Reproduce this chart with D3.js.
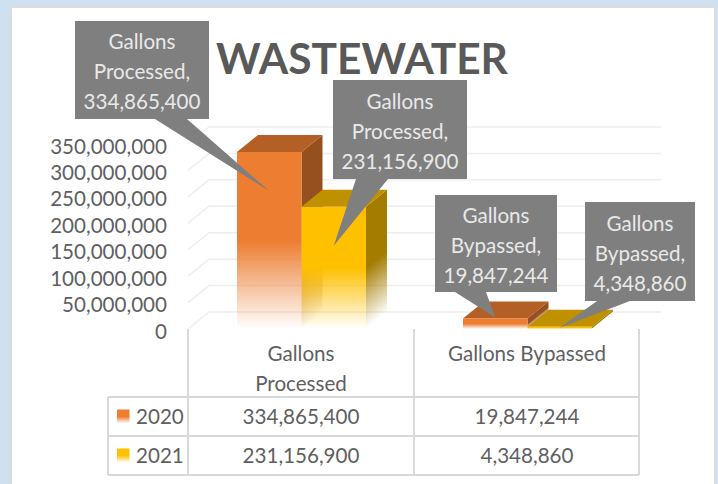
<!DOCTYPE html>
<html>
<head>
<meta charset="utf-8">
<script src="https://d3js.org/d3.v7.min.js"></script>
<style>
  body { margin: 0; background: #cfe0f0; }
  text { font-family: Lato, "Noto Sans", sans-serif; fill: #5f5f5f; }
</style>
</head>
<body>
<svg id="drawing-area" width="718" height="484"></svg>
<script>
const categories = ["Gallons Processed", "Gallons Bypassed"];
const seriesNames = ["2020", "2021"];
const values2020 = [334865400, 19847244];
const values2021 = [231156900, 4348860];
const yTicks = [0, 50000000, 100000000, 150000000, 200000000, 250000000, 300000000, 350000000];

const seriesValues = [values2020, values2021];
const faces = [
  { front: "#ed7d31", top: "#b35f25", side: "#964f1e" },
  { front: "#ffc000", top: "#bf9000", side: "#a37c00" }
];

// 3d depth of the plot box
const depth = { x: 21, y: -17 };
const fmt = d3.format(",");
const cellSize = 20.6;

const svg = d3.select("#drawing-area");
const defs = svg.append("defs");

svg.append("rect")
  .attr("x", 11).attr("y", 7)
  .attr("width", 704).attr("height", 490)
  .attr("fill", "#fff")
  .attr("stroke", "#dcdcdc")
  .attr("stroke-width", 2);

svg.append("text")
  .attr("x", 362).attr("y", 74)
  .attr("text-anchor", "middle")
  .attr("font-size", 42.5)
  .attr("font-weight", 700)
  .style("fill", "#595959")
  .text("WASTEWATER");

const x0 = d3.scaleBand().domain(categories).range([188, 640]);
const x1 = d3.scaleBand().domain(seriesNames).range([49, 178]);
const y = d3.scaleLinear().domain([0, 350000000]).range([329, 144]);
const row = d3.scaleBand().domain(seriesNames).range([397, 475]);

// gridlines: a short diagonal on the side wall, then along the back wall
svg.append("g")
  .selectAll("path")
  .data(yTicks)
  .enter()
  .append("path")
  .attr("d", d => {
    const p = d3.path();
    p.moveTo(x0.range()[0], y(d));
    p.lineTo(x0.range()[0] + depth.x, y(d) + depth.y);
    p.lineTo(x0.range()[1] + depth.x, y(d) + depth.y);
    return p.toString();
  })
  .attr("fill", "none")
  .attr("stroke", "#eeeeee")
  .attr("stroke-width", 1.5);

// y axis labels
const axis = svg.append("g")
  .attr("transform", `translate(${x0.range()[0]},2.5)`)
  .call(d3.axisLeft(y).tickValues(yTicks).tickSize(0).tickPadding(21).tickFormat(fmt));
axis.select(".domain").remove();
axis.selectAll("text")
  .attr("font-size", cellSize)
  .style("font-family", "Lato");

// fade runs from half way down the front face to the bottom edge
function fadeGradient(id, color, attrs) {
  const g = defs.append("linearGradient").attr("id", id);
  Object.keys(attrs).forEach(k => g.attr(k, attrs[k]));
  g.append("stop").attr("offset", 0.5).attr("stop-color", color);
  g.append("stop").attr("offset", 1).attr("stop-color", color).attr("stop-opacity", 0);
}

faces.forEach((f, i) => {
  fadeGradient("front" + i, f.front, { x1: 0, y1: 0, x2: 0, y2: 1 });
});

const bars = svg.append("g");
const bw = x1.bandwidth();
const callTips = [];

seriesNames.forEach((s, si) => {
  categories.forEach((c, ci) => {
    const v = seriesValues[si][ci];
    const bx = x0(c) + x1(s);
    const top = y(v);
    const base = y(0);
    const g = bars.append("g");

    // side fade has to follow the slanted bottom edge
    const len = Math.hypot(depth.x, depth.y);
    const nx = -depth.y / len, ny = depth.x / len;
    const sideId = `side${si}${ci}`;
    const ex = bx + bw, ey = base;
    const reach = (base - top) * ny;
    fadeGradient(sideId, faces[si].side, {
      gradientUnits: "userSpaceOnUse",
      x1: ex - nx * reach, y1: ey - ny * reach,
      x2: ex, y2: ey
    });

    g.append("path")
      .attr("d", `M${ex},${top}L${ex + depth.x},${top + depth.y}L${ex + depth.x},${base + depth.y}L${ex},${base}Z`)
      .attr("fill", `url(#${sideId})`);
    g.append("path")
      .attr("d", `M${bx},${top}L${ex},${top}L${ex + depth.x},${top + depth.y}L${bx + depth.x},${top + depth.y}Z`)
      .attr("fill", faces[si].top);
    g.append("rect")
      .attr("x", bx).attr("y", top)
      .attr("width", bw).attr("height", base - top)
      .attr("fill", `url(#front${si})`);

    callTips.push({ s, c, v, bx, top });
  });
});

// data table under the plot
const table = svg.append("g")
  .attr("fill", "none")
  .attr("stroke", "#d9d9d9")
  .attr("stroke-width", 2);
const tableLeft = 108;
const tableBottom = row.range()[1];
[x0.range()[0], x0(categories[1]), x0.range()[1] - 1].forEach(vx => {
  table.append("line")
    .attr("x1", vx).attr("x2", vx)
    .attr("y1", y(0)).attr("y2", tableBottom);
});
table.append("line")
  .attr("x1", tableLeft).attr("x2", tableLeft)
  .attr("y1", row.range()[0]).attr("y2", tableBottom);
[...seriesNames.map(s => row(s)), tableBottom].forEach(hy => {
  table.append("line")
    .attr("x1", tableLeft).attr("x2", x0.range()[1] - 1)
    .attr("y1", hy).attr("y2", hy);
});

const cx = c => x0(c) + x0.bandwidth() / 2;

// first header wraps, the second one fits on one line
[["Gallons", "Processed"], ["Gallons Bypassed"]].forEach((lines, i) => {
  lines.forEach((line, j) => {
    svg.append("text")
      .attr("x", cx(categories[i]))
      .attr("y", 354 + j * 30)
      .attr("dy", "0.35em")
      .attr("text-anchor", "middle")
      .attr("font-size", cellSize)
      .text(line);
  });
});

seriesNames.forEach((s, si) => {
  const my = row(s) + row.bandwidth() / 2;
  svg.append("rect")
    .attr("x", 117).attr("y", my - 7)
    .attr("width", 12.5).attr("height", 14)
    .attr("fill", `url(#front${si})`);
  svg.append("text")
    .attr("x", 136).attr("y", my)
    .attr("dy", "0.35em")
    .attr("font-size", cellSize)
    .text(s);
  categories.forEach((c, ci) => {
    svg.append("text")
      .attr("x", cx(c)).attr("y", my)
      .attr("dy", "0.35em")
      .attr("text-anchor", "middle")
      .attr("font-size", cellSize)
      .text(fmt(seriesValues[si][ci]));
  });
});

// callouts, same order as callTips: 2020 processed, 2020 bypassed, 2021 processed, 2021 bypassed
const callBoxes = [
  { x: 75, y: 21, w: 134, h: 98, b0: 155, b1: 187, dy: 39 },
  { x: 435, y: 195, w: 122, h: 97, b0: 455, b1: 486, dy: -1 },
  { x: 333, y: 80, w: 134, h: 99, b0: 356, b1: 388, dy: 39 },
  { x: 585, y: 202, w: 110, h: 99, b0: 597, b1: 630, dy: 1 }
];

const calls = svg.append("g");
callTips.forEach((d, i) => {
  const b = callBoxes[i];
  const tipX = d.bx + bw / 2;
  const tipY = d.top + b.dy;
  const by = b.y + b.h;
  calls.append("path")
    .attr("d", `M${b.x},${b.y}H${b.x + b.w}V${by}H${b.b1}L${tipX},${tipY}L${b.b0},${by}H${b.x}Z`)
    .attr("fill", "#7f7f7f");
  const words = d.c.split(" ");
  [words[0], words[1] + ",", fmt(d.v)].forEach((line, j) => {
    calls.append("text")
      .attr("x", b.x + b.w / 2)
      .attr("y", b.y + b.h / 2 + 2 + (j - 1) * 30)
      .attr("dy", "0.35em")
      .attr("text-anchor", "middle")
      .attr("font-size", cellSize)
      .style("fill", "#e9e9e9")
      .text(line);
  });
});
</script>
</body>
</html>
